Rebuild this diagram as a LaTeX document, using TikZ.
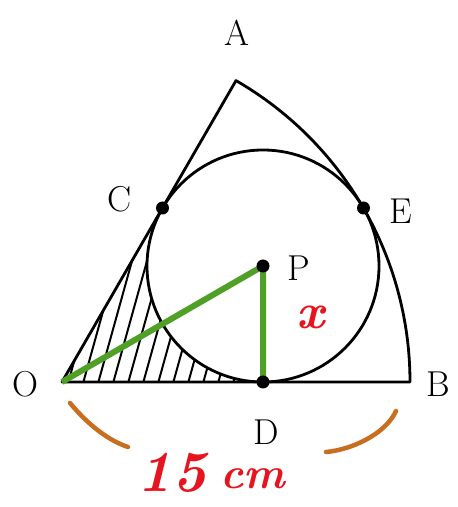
\documentclass[tikz,border=0pt]{standalone}
\usepackage{fontspec}
\begin{document}
\begin{tikzpicture}[x=1pt,y=1pt,
  edge/.style={line width=2.8pt,black,line join=round},
  greenline/.style={line width=6pt,draw={rgb,255:red,80;green,160;blue,40}},
  hatch/.style={line width=2pt,black},
  dot/.style={circle,fill=black,inner sep=0pt,minimum size=13pt},
  lab/.style={font=\fontsize{36}{40}\selectfont},
  brace/.style={line width=4.5pt,draw={rgb,255:red,200;green,110;blue,30},line cap=round}]
\useasboundingbox (0,0) rectangle (458,507);
\coordinate (O) at (62,125);
\coordinate (B) at (410,125);
\coordinate (A) at (236,426.4);
\coordinate (P) at (263,241);
\coordinate (C) at (162.5,299);
\coordinate (D) at (263,125);
\coordinate (E) at (363.5,299);
% hatching
\begin{scope}
  \clip (O) -- (C) arc[start angle=150,end angle=270,radius=116] -- cycle;
  \foreach \x in {22,37,...,280} {
    \draw[hatch] (\x,120) -- ++(50,180);
  }
\end{scope}
% sector
\draw[edge] (B) -- (O) -- (A) arc[start angle=60,end angle=0,radius=348] -- cycle;
\draw[edge] (P) circle[radius=116];
% green
\draw[greenline] (O) -- (P) -- (D);
% dots
\node[dot] (p) at (P) {};
\node[dot] (c) at (C) {};
\node[dot] (d) at (D) {};
\node[dot] (e) at (E) {};
% labels
\node[lab] (lA) at (237,474) {A};
\node[lab] (lC) at (120,308) {C};
\node[lab] (lE) at (401,296) {E};
\node[lab] (lP) at (299,239) {P};
\node[lab] (lO) at (25,123) {O};
\node[lab] (lB) at (438,123) {B};
\node[lab] (lD) at (266,75) {D};
\node[text={rgb,255:red,230;green,20;blue,30},font=\fontsize{50}{54}\bfseries\itshape\selectfont] (x) at (311,190) {x};
\node[text={rgb,255:red,230;green,20;blue,30},font=\fontsize{58}{62}\bfseries\itshape\selectfont,anchor=base] (n15) at (172,16) {15};
\node[text={rgb,255:red,230;green,20;blue,30},font=\fontsize{44}{48}\bfseries\itshape\selectfont,anchor=base] (cm) at (253,18) {cm};
% braces
\draw[brace] (70,104) .. controls (90,80) and (110,66) .. (128,60);
\draw[brace] (326,55) .. controls (350,57) and (385,72) .. (396,96);
\end{tikzpicture}
\end{document}
